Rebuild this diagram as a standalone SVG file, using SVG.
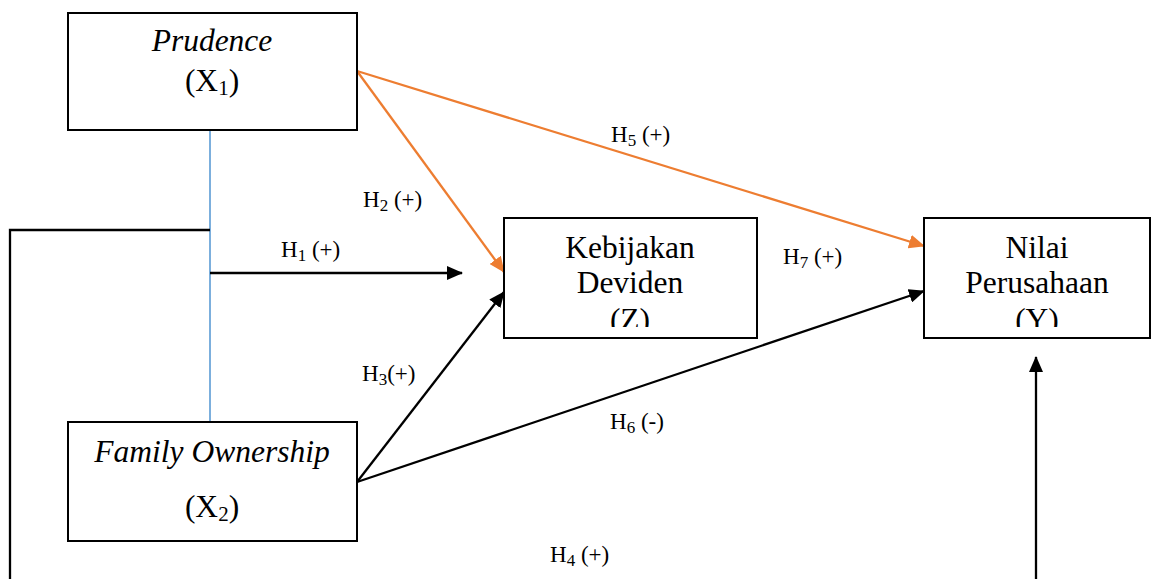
<svg xmlns="http://www.w3.org/2000/svg" width="1156" height="579" viewBox="0 0 1156 579">
<defs>
<marker id="ab" markerUnits="userSpaceOnUse" markerWidth="16" markerHeight="14" refX="15" refY="7" orient="auto"><path d="M0,0 L16,7 L0,14 Z" fill="#000"/></marker>
<marker id="ao" markerUnits="userSpaceOnUse" markerWidth="16" markerHeight="14" refX="15" refY="7" orient="auto"><path d="M0,0 L16,7 L0,14 Z" fill="#ED7D31"/></marker>
<style>
.box{fill:#fff;stroke:#000;stroke-width:2}
.t{font-family:"Liberation Serif","Times New Roman",serif;font-size:31.5px;fill:#000;text-anchor:middle}
.i{font-style:italic}
.l{font-family:"Liberation Serif","Times New Roman",serif;font-size:23px;fill:#000}
.bl{stroke:#000;stroke-width:2.3;fill:none}
.or{stroke:#ED7D31;stroke-width:2.3;fill:none}
.bu{stroke:#5B9BD5;stroke-width:1.6;fill:none}
</style>
<clipPath id="cz"><rect x="504" y="218" width="253" height="109"/></clipPath>
<clipPath id="cy"><rect x="924" y="218" width="226" height="109"/></clipPath>
</defs>
<rect width="1156" height="579" fill="#fff"/>
<g id="connectors">
<line class="bu" x1="210" y1="130" x2="210" y2="422"/>
<polyline class="bl" points="210,230 10,230 10,579"/>
<line class="bl" x1="210" y1="273" x2="462" y2="273" marker-end="url(#ab)"/>
<line class="or" x1="357" y1="71" x2="504" y2="272" marker-end="url(#ao)"/>
<line class="or" x1="357" y1="71" x2="924" y2="246" marker-end="url(#ao)"/>
<line class="bl" x1="357" y1="482" x2="504" y2="292" marker-end="url(#ab)"/>
<line class="bl" x1="357" y1="482" x2="924" y2="291" marker-end="url(#ab)"/>
<line class="bl" x1="1036" y1="579" x2="1036" y2="357" marker-end="url(#ab)"/>
<text class="l" x="281" y="257">H<tspan font-size="17" dy="4">1</tspan><tspan dy="-4"> (+)</tspan></text>
<text class="l" x="363" y="207">H<tspan font-size="17" dy="4">2</tspan><tspan dy="-4"> (+)</tspan></text>
<text class="l" x="362" y="381">H<tspan font-size="17" dy="4">3</tspan><tspan dy="-4">(+)</tspan></text>
<text class="l" x="550" y="562">H<tspan font-size="17" dy="4">4</tspan><tspan dy="-4"> (+)</tspan></text>
<text class="l" x="611" y="142">H<tspan font-size="17" dy="4">5</tspan><tspan dy="-4"> (+)</tspan></text>
<text class="l" x="610" y="429">H<tspan font-size="17" dy="4">6</tspan><tspan dy="-4"> (-)</tspan></text>
<text class="l" x="783" y="264">H<tspan font-size="17" dy="4">7</tspan><tspan dy="-4"> (+)</tspan></text>
</g>
<g id="prudence">
<rect class="box" x="68" y="13" width="289" height="117"/>
<text class="t i" x="212" y="51">Prudence</text>
<text class="t" x="212" y="91">(X<tspan font-size="21" dy="4">1</tspan><tspan dy="-4">)</tspan></text>
</g>
<g id="family">
<rect class="box" x="68" y="422" width="289" height="119"/>
<text class="t i" x="212" y="462">Family Ownership</text>
<text class="t" x="212" y="517">(X<tspan font-size="21" dy="4">2</tspan><tspan dy="-4">)</tspan></text>
</g>
<g id="kebijakan">
<rect class="box" x="504" y="218" width="253" height="120"/>
<g clip-path="url(#cz)">
<text class="t" x="630" y="258">Kebijakan</text>
<text class="t" x="630" y="293">Deviden</text>
<text class="t" x="630" y="330">(Z)</text>
</g>
</g>
<g id="nilai">
<rect class="box" x="924" y="218" width="226" height="120"/>
<g clip-path="url(#cy)">
<text class="t" x="1037" y="258">Nilai</text>
<text class="t" x="1037" y="293">Perusahaan</text>
<text class="t" x="1037" y="330">(Y)</text>
</g>
</g>
</svg>
